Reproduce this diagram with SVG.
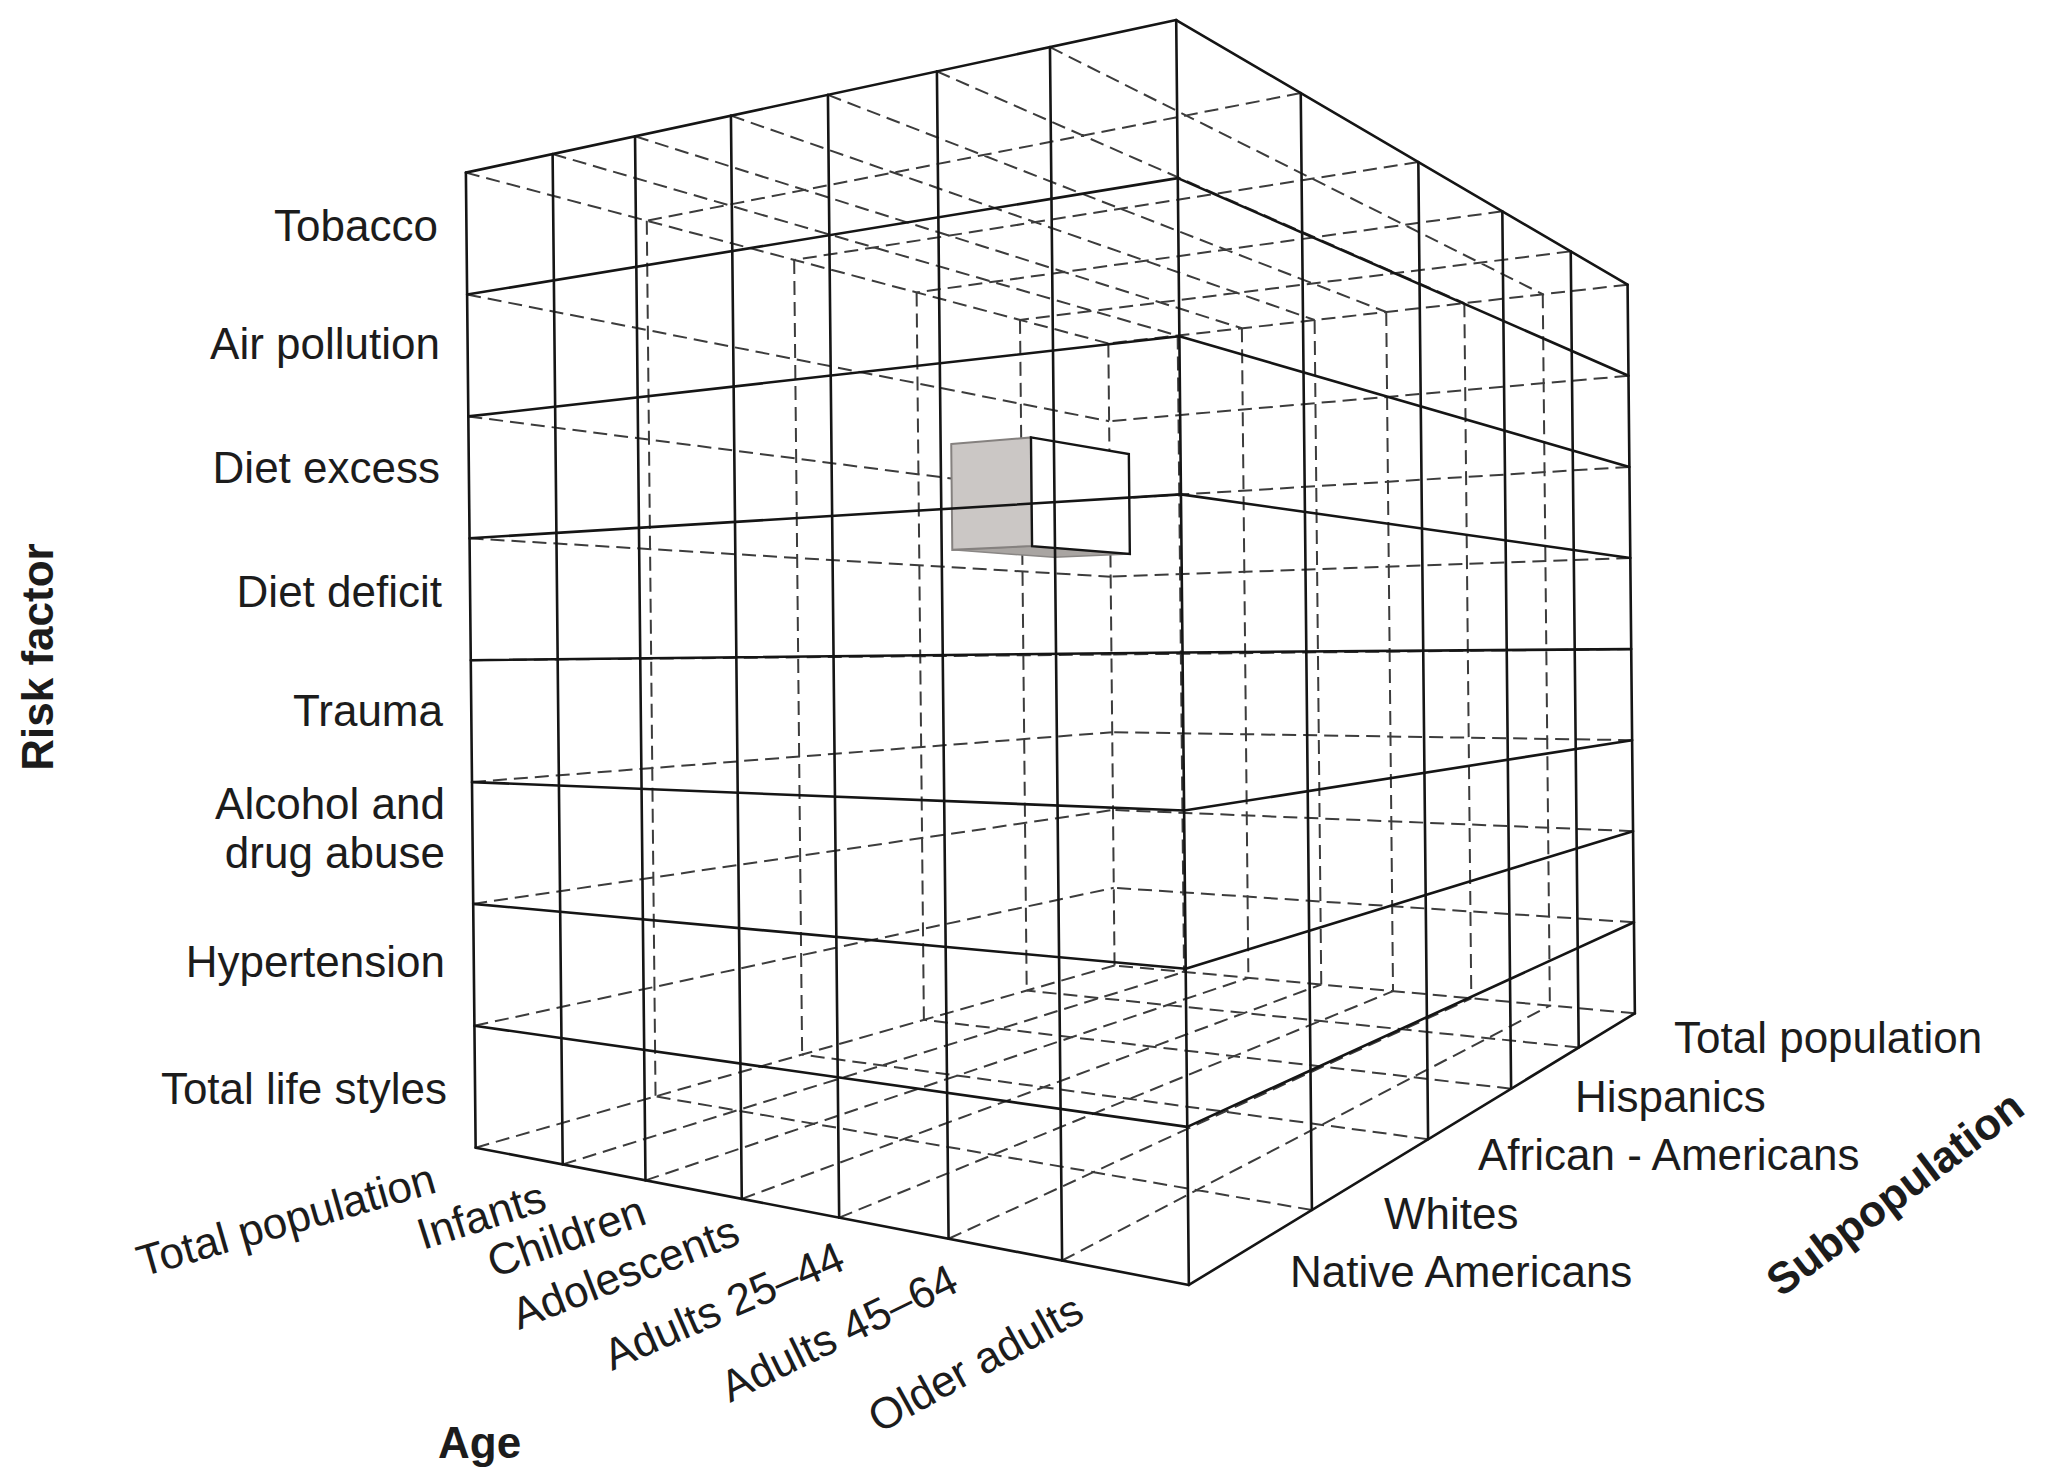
<svg xmlns="http://www.w3.org/2000/svg" width="2047" height="1470" viewBox="0 0 2047 1470">
<style>
.s{fill:none;stroke:#151515;stroke-width:2.6;stroke-linecap:round}
.d{fill:none;stroke:#3c3c3c;stroke-width:2;stroke-dasharray:14 7}
.t{font-family:"Liberation Sans",Arial,Helvetica,sans-serif;font-size:44px;fill:#1c1c1c}
.b{font-family:"Liberation Sans",Arial,Helvetica,sans-serif;font-size:44px;font-weight:bold;fill:#1c1c1c}
</style>
<rect width="2047" height="1470" fill="#ffffff"/>
<g id="cube" transform="rotate(-0.573 1180 650)">
<g id="hidden-lines">
<path class="d" d="M1546.3 297.9V1009.3M1467.8 306V1001.2M1389.6 314.1V993.3M1317.9 321.4V985.9M1245.1 328.9V978.5M1180.8 335.6V971.9M1111.4 342.7V964.8"/>
<path class="d" d="M651.1 215.4V1091.1M798.1 256.1V1050.8M920.2 289.8V1017.3M1023.3 318.3V989"/>
<path class="d" d="M1631.2 289.2L1111.4 342.7M1631.2 380.3L1111.4 420.5M1631.2 471.4L1111.4 498.2M1631.2 562.5L1111.4 576M1631.2 653.6L1111.4 653.8M1631.2 744.7L1111.4 731.5M1631.2 835.7L1111.4 809.3M1631.2 926.8L1111.4 887.1M1631.2 1017.9L1111.4 964.8"/>
<path class="d" d="M470.7 165.5L1111.4 342.7M470.7 287.4L1111.4 420.5M470.7 409.3L1111.4 498.2M470.7 531.2L1111.4 576M470.7 653.1L1111.4 653.8M470.7 775L1111.4 731.5M470.7 896.8L1111.4 809.3M470.7 1018.7L1111.4 887.1M470.7 1140.6L1111.4 964.8"/>
<path class="d" d="M1056 45.9L1546.3 297.9M942.7 69L1467.8 306M833.5 91.4L1389.6 314.1M736.3 111.2L1317.9 321.4M640.2 130.9L1245.1 328.9M557.6 147.8L1180.8 335.6M1306.3 94.3L651.1 215.4M1423.2 164.4L798.1 256.1M1506.7 214.5L920.2 289.8M1574.7 255.3L1023.3 318.3"/>
<path class="d" d="M1056 1259.3L1546.3 1009.3M942.7 1236.4L1467.8 1001.2M833.5 1214.2L1389.6 993.3M736.3 1194.5L1317.9 985.9M640.2 1175L1245.1 978.5M557.6 1158.2L1180.8 971.9M1306.3 1211.3L651.1 1091.1M1423.2 1141.7L798.1 1050.8M1506.7 1092L920.2 1017.3M1574.7 1051.5L1023.3 989"/>
</g>
<g id="highlight-cell">
<polygon points="953.3,547.6 1033.1,544.6 1130.8,553.5 1054.9,556" fill="#a9a5a2" stroke="#8a8785" stroke-width="1.5"/>
<polygon points="953.3,441.8 1033.1,435.9 1033.1,544.6 953.3,547.6" fill="#cbc7c5" stroke="#85817f" stroke-width="2"/>
<polygon points="1033.1,435.9 1130.8,453.6 1130.8,553.5 1033.1,544.6" fill="#ffffff" stroke="#151515" stroke-width="2.4"/>
</g>
<g id="front-faces">
<path class="s" d="M1182.5 20V1285M1056 45.9V1259.3M942.7 69V1236.4M833.5 91.4V1214.2M736.3 111.2V1194.5M640.2 130.9V1175M557.6 147.8V1158.2M470.7 165.5V1140.6"/>
<path class="s" d="M1306.3 94.3V1211.3M1423.2 164.4V1141.7M1506.7 214.5V1092M1574.7 255.3V1051.5M1631.2 289.2V1017.9"/>
<path class="s" d="M470.7 165.5L1182.5 20M470.7 287.4L1182.5 178.1M470.7 409.3L1182.5 336.3M470.7 531.2L1182.5 494.4M470.7 653.1L1182.5 652.5M470.7 775L1182.5 810.6M470.7 896.8L1182.5 968.8M470.7 1018.7L1182.5 1126.9M470.7 1140.6L1182.5 1285"/>
<path class="s" d="M1182.5 20L1631.2 289.2M1182.5 178.1L1631.2 380.3M1182.5 336.3L1631.2 471.4M1182.5 494.4L1631.2 562.5M1182.5 652.5L1631.2 653.6M1182.5 810.6L1631.2 744.7M1182.5 968.8L1631.2 835.7M1182.5 1126.9L1631.2 926.8M1182.5 1285L1631.2 1017.9"/>
</g>
</g>
<g id="risk-factor-labels" text-anchor="end">
<text class="t" x="438" y="240.5">Tobacco</text>
<text class="t" x="440" y="359">Air pollution</text>
<text class="t" x="440" y="483">Diet excess</text>
<text class="t" x="442" y="607">Diet deficit</text>
<text class="t" x="443" y="725.5">Trauma</text>
<text class="t" x="445" y="819">Alcohol and</text>
<text class="t" x="445" y="868">drug abuse</text>
<text class="t" x="445" y="977">Hypertension</text>
<text class="t" x="447" y="1104">Total life styles</text>
</g>
<g id="risk-factor-title">
<text class="b" x="53" y="657" text-anchor="middle" transform="rotate(-90 53 657)">Risk factor</text>
</g>
<g id="age-labels">
<text class="t" x="142" y="1277" transform="rotate(-16 142 1277)">Total population</text>
<text class="t" x="423" y="1250" transform="rotate(-17.7 423 1250)">Infants</text>
<text class="t" x="494" y="1278" transform="rotate(-19.5 494 1278)">Children</text>
<text class="t" x="519" y="1330" transform="rotate(-21.3 519 1330)">Adolescents</text>
<text class="t" x="612" y="1371" transform="rotate(-23.5 612 1371)">Adults 25–44</text>
<text class="t" x="730" y="1403" transform="rotate(-26 730 1403)">Adults 45–64</text>
<text class="t" x="879" y="1434" transform="rotate(-29 879 1434)">Older adults</text>
</g>
<g id="age-title">
<text class="b" x="438" y="1458">Age</text>
</g>
<g id="subpopulation-labels">
<text class="t" x="1674" y="1053">Total population</text>
<text class="t" x="1575" y="1112">Hispanics</text>
<text class="t" x="1478" y="1170">African - Americans</text>
<text class="t" x="1384" y="1229">Whites</text>
<text class="t" x="1290" y="1287">Native Americans</text>
</g>
<g id="subpopulation-title">
<text class="b" x="1781" y="1298" transform="rotate(-37 1781 1298)">Subpopulation</text>
</g>
</svg>
